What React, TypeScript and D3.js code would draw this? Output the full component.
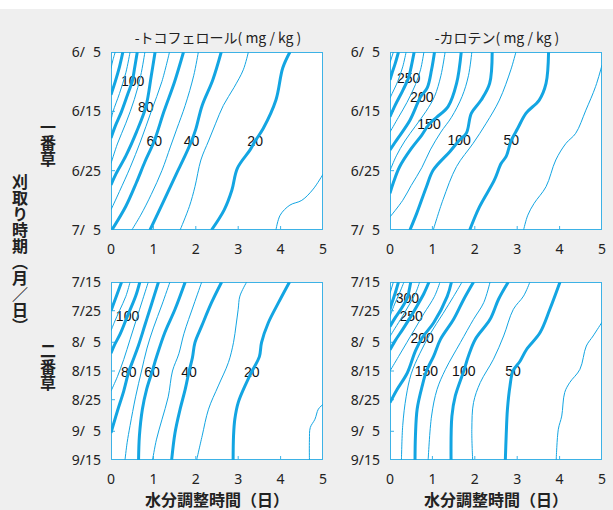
import React, { useEffect, useRef } from "react";
import * as d3 from "d3";

// x axis: drying time (days), y axis: harvest date
const dayTicks = [0, 1, 2, 3, 4, 5];
const firstCutDates = ["6/5", "6/15", "6/25", "7/5"];
const secondCutDates = ["7/15", "7/25", "8/5", "8/15", "8/25", "9/5", "9/15"];

type Contour = { level: number; pts: [number, number][] };
type Label = [number, number, number]; // value, x (days), day offset

// α-tocopherol, first cut (x days, days after 6/5)
const tocoFirst: Contour[] = [
  { level: 10, pts: [[3.89, 30], [3.99, 27.5], [4.22, 25.8], [4.5, 25], [4.77, 23.1], [5, 20.6]] },
  { level: 20, pts: [[4.22, 0], [4.05, 2.7], [3.89, 8.1], [3.59, 12.9], [3.4, 15], [3.28, 16.5], [2.98, 19.6], [2.85, 23.3], [2.67, 26.6], [2.37, 30]] },
  { level: 30, pts: [[3.24, 0], [3.12, 3], [2.9, 6], [2.65, 9], [2.47, 12], [2.3, 15], [2.12, 18.2], [1.98, 22.7], [1.85, 26], [1.63, 30]] },
  { level: 40, pts: [[2.6, 0], [2.4, 4.7], [2.15, 9], [2.0, 13], [1.9, 15], [1.7, 18.2], [1.55, 20.4], [1.25, 25], [0.92, 30]] },
  { level: 50, pts: [[2.06, 0], [1.95, 4], [1.75, 9], [1.55, 13], [1.4, 16], [1.2, 20], [0.95, 24], [0.7, 27.5], [0.49, 30]] },
  { level: 60, pts: [[1.71, 0], [1.5, 5], [1.25, 10], [1.02, 15], [0.8, 18.5], [0.6, 22], [0.35, 26], [0.02, 30]] },
  { level: 70, pts: [[1.38, 0], [1.2, 5], [0.95, 10], [0.7, 15], [0.45, 19.5], [0.2, 23.5], [0, 26.6]] },
  { level: 80, pts: [[1.04, 0], [0.95, 4], [0.82, 9.3], [0.6, 13.5], [0.35, 17.5], [0.12, 20.5], [0, 22.4]] },
  { level: 90, pts: [[0.8, 0], [0.7, 4], [0.55, 8], [0.35, 12], [0.15, 15.5], [0, 18.8]] },
  { level: 100, pts: [[0.62, 0], [0.55, 3], [0.5, 5], [0.4, 7], [0.25, 10], [0.1, 12.5], [0, 14.5]] },
  { level: 110, pts: [[0.45, 0], [0.35, 3.5], [0.2, 7], [0.05, 10], [0, 11.5]] },
  { level: 120, pts: [[0.28, 0], [0.2, 2.5], [0.1, 5], [0, 7.2]] },
  { level: 130, pts: [[0.1, 0], [0.04, 1.5], [0, 2.8]] },
];
const tocoFirstLabels: Label[] = [[100, 0.51, 4.9], [80, 0.82, 9.3], [60, 1.02, 15], [40, 1.9, 15], [20, 3.4, 15]];

// β-carotene, first cut
const carotFirst: Contour[] = [
  { level: 25, pts: [[5, 2.2], [4.85, 5.8], [4.62, 9.8], [4.38, 13.7], [4.15, 15.4], [3.91, 18.2], [3.68, 22.7], [3.4, 25.5], [3.25, 27.5], [3.15, 30]] },
  { level: 50, pts: [[3.74, 0], [3.68, 5.3], [3.52, 8.1], [3.21, 10.3], [3.01, 12.9], [2.86, 14.9], [2.74, 17.6], [2.62, 18.8], [2.46, 21.6], [2.11, 26.1], [1.88, 30]] },
  { level: 75, pts: [[2.97, 0], [2.85, 3], [2.58, 8.1], [2.27, 12], [1.96, 15.4], [1.57, 19.3], [1.25, 24.9], [1.02, 30]] },
  { level: 100, pts: [[2.41, 0], [2.35, 5.3], [2.15, 8.1], [1.92, 10.3], [1.8, 13.7], [1.63, 14.9], [1.41, 16.8], [1.02, 19.9], [0.86, 22.7], [0.63, 27.2], [0.47, 30]] },
  { level: 125, pts: [[1.93, 0], [1.85, 4], [1.7, 7.5], [1.45, 11], [1.2, 13.5], [0.95, 16.5], [0.75, 19.5], [0.5, 22.5], [0.3, 25], [0, 27.8]] },
  { level: 150, pts: [[1.68, 0], [1.57, 5.3], [1.37, 9.2], [1.1, 11], [0.92, 12.2], [0.75, 14], [0.5, 16.3], [0.23, 19.3], [0.08, 22], [0, 23.8]] },
  { level: 175, pts: [[1.3, 0], [1.2, 4], [1.05, 7.5], [0.85, 10], [0.6, 12.5], [0.35, 15], [0.15, 17.5], [0, 20]] },
  { level: 200, pts: [[1.05, 0], [0.98, 3], [0.88, 6], [0.72, 7.6], [0.47, 11.5], [0.16, 14.8], [0, 16.5]] },
  { level: 225, pts: [[0.8, 0], [0.72, 3], [0.6, 5.5], [0.4, 8.5], [0.2, 11], [0, 13.5]] },
  { level: 250, pts: [[0.57, 0], [0.5, 2.5], [0.44, 4.3], [0.3, 6.5], [0.12, 9], [0, 10.9]] },
  { level: 275, pts: [[0.38, 0], [0.3, 2.5], [0.18, 5], [0.05, 7], [0, 7.8]] },
  { level: 300, pts: [[0.2, 0], [0.12, 2], [0.05, 3.5], [0, 4.7]] },
  { level: 325, pts: [[0.08, 0], [0, 1.8]] },
];
const carotFirstLabels: Label[] = [[250, 0.44, 4.3], [200, 0.75, 7.6], [150, 0.92, 12.2], [100, 1.63, 14.9], [50, 2.86, 14.9]];

// α-tocopherol, second cut (days after 7/15)
const tocoSecond: Contour[] = [
  { level: 10, pts: [[5, 42.6], [4.89, 44.3], [4.81, 47.8], [4.7, 50.7], [4.68, 55], [4.68, 62]] },
  { level: 20, pts: [[4.21, 0], [3.95, 7.2], [3.71, 14.2], [3.55, 21.1], [3.5, 26], [3.32, 31.2], [3.16, 36.2], [3.0, 42], [2.92, 47.8], [2.89, 53.6], [2.88, 62]] },
  { level: 30, pts: [[3.2, 0], [3.04, 4.9], [3.0, 9.5], [2.95, 15], [2.89, 21], [2.77, 28], [2.53, 36.2], [2.3, 44.3], [2.15, 53.6], [2.02, 62]] },
  { level: 40, pts: [[2.61, 0], [2.37, 7.2], [2.14, 15.3], [1.98, 21.1], [1.92, 26.4], [1.84, 31.2], [1.75, 37.4], [1.63, 44.3], [1.51, 52.5], [1.43, 62]] },
  { level: 50, pts: [[2.14, 0], [1.95, 8], [1.72, 18], [1.6, 25], [1.45, 31], [1.35, 40], [1.2, 48], [1.07, 55], [0.98, 62]] },
  { level: 60, pts: [[1.75, 0], [1.51, 9.5], [1.27, 17.6], [1.08, 25.8], [0.97, 31.2], [0.84, 37.4], [0.74, 44.3], [0.67, 53.6], [0.65, 62]] },
  { level: 70, pts: [[1.39, 0], [1.2, 8], [1.0, 16], [0.85, 23], [0.72, 31], [0.58, 40], [0.45, 50], [0.38, 56], [0.33, 62]] },
  { level: 80, pts: [[1.12, 0], [0.95, 8], [0.8, 15], [0.65, 22], [0.5, 28], [0.42, 31.2], [0.3, 38], [0.15, 45], [0, 52.5]] },
  { level: 90, pts: [[0.88, 0], [0.75, 6], [0.6, 13], [0.45, 20], [0.3, 27], [0.15, 33], [0, 38]] },
  { level: 100, pts: [[0.68, 0], [0.58, 5], [0.39, 11.8], [0.22, 18], [0.08, 22], [0, 24.8]] },
  { level: 110, pts: [[0.45, 0], [0.35, 5], [0.2, 10], [0.08, 14], [0, 17]] },
  { level: 120, pts: [[0.25, 0], [0.15, 4], [0.05, 8], [0, 10]] },
];
const tocoSecondLabels: Label[] = [[100, 0.39, 11.8], [80, 0.42, 31.2], [60, 0.97, 31.2], [40, 1.84, 31.2], [20, 3.32, 31.2]];

// β-carotene, second cut
const carotSecond: Contour[] = [
  { level: 25, pts: [[5, 14], [4.79, 18.8], [4.63, 22.3], [4.48, 30.4], [4.24, 35], [4.12, 38.5], [4.05, 46.7], [3.97, 51.3], [3.92, 62]] },
  { level: 50, pts: [[4.01, 0], [3.77, 9.5], [3.54, 17.6], [3.22, 23.5], [3.07, 27.5], [2.9, 31], [2.83, 36.2], [2.77, 44.3], [2.74, 53.6], [2.72, 62]] },
  { level: 75, pts: [[3.3, 0], [3.15, 4.9], [2.91, 9.5], [2.68, 18.8], [2.44, 26.9], [2.13, 35], [1.97, 42], [1.93, 51.3], [1.95, 62]] },
  { level: 100, pts: [[2.79, 0], [2.56, 6], [2.36, 13], [2.01, 20], [1.85, 25.8], [1.74, 31], [1.54, 39.7], [1.46, 46.7], [1.44, 62]] },
  { level: 125, pts: [[2.36, 0], [2.21, 7.2], [1.97, 13], [1.66, 21.1], [1.31, 30.4], [1.11, 37.4], [0.98, 46.7], [0.9, 62]] },
  { level: 150, pts: [[1.97, 0], [1.74, 6], [1.5, 13], [1.19, 20], [1.03, 25.8], [0.86, 31], [0.76, 36.2], [0.64, 44.3], [0.6, 53.6], [0.59, 62]] },
  { level: 175, pts: [[1.7, 0], [1.5, 5], [1.25, 11], [0.95, 18], [0.7, 25], [0.5, 32], [0.38, 40], [0.3, 50], [0.27, 62]] },
  { level: 200, pts: [[1.45, 0], [1.35, 5], [1.03, 14.2], [0.76, 19.4], [0.6, 24], [0.41, 31.6], [0.17, 37.4], [0, 42]] },
  { level: 225, pts: [[1.18, 0], [1.05, 5], [0.8, 11], [0.6, 16], [0.4, 21], [0.2, 26], [0, 31]] },
  { level: 250, pts: [[0.92, 0], [0.8, 4], [0.65, 8], [0.5, 11.8], [0.3, 16.5], [0.12, 20.5], [0, 23.6]] },
  { level: 275, pts: [[0.7, 0], [0.6, 4], [0.45, 8], [0.25, 13], [0.08, 17], [0, 19]] },
  { level: 300, pts: [[0.49, 0], [0.45, 3], [0.41, 5.5], [0.28, 9], [0.12, 12.5], [0, 15.5]] },
  { level: 325, pts: [[0.33, 0], [0.22, 4], [0.1, 8], [0, 12]] },
  { level: 350, pts: [[0.2, 0], [0.12, 4], [0.04, 7.5], [0, 9.6]] },
  { level: 375, pts: [[0.08, 0], [0, 4]] },
];
const carotSecondLabels: Label[] = [[300, 0.41, 5.5], [250, 0.5, 11.8], [200, 0.76, 19.4], [150, 0.86, 31], [100, 1.74, 31], [50, 2.9, 31]];

const titles = ["-トコフェロール( mg / kg )", "-カロテン( mg / kg )"];

const BLUE = "#13a5e2";
const FRAME = "#3db2e6";
const JP = "'Noto Sans CJK JP', 'Noto Sans', sans-serif";

const parseMD = (s: string) => {
  const [m, d] = s.split("/").map(Number);
  return new Date(2000, m - 1, d);
};
const fmtMD = (s: string) => {
  const [m, d] = s.split("/");
  return d.length === 1 ? `${m}/\u2007${d}` : `${m}/${d}`;
};

export default function App() {
  const ref = useRef<SVGSVGElement>(null);

  useEffect(() => {
    const svg = d3.select(ref.current);
    svg.selectAll("*").remove();

    svg.append("rect").attr("width", 613).attr("height", 510).attr("fill", "#fff");
    svg.append("rect").attr("y", 9).attr("width", 613).attr("height", 501).attr("fill", "#efefef");

    const pw = 212;
    const ph = 178;
    const panels = [
      { id: "p0", left: 111, top: 52, data: tocoFirst, labels: tocoFirstLabels, dates: firstCutDates, major: 20, title: titles[0] },
      { id: "p1", left: 390, top: 52, data: carotFirst, labels: carotFirstLabels, dates: firstCutDates, major: 50, title: titles[1] },
      { id: "p2", left: 111, top: 282, data: tocoSecond, labels: tocoSecondLabels, dates: secondCutDates, major: 20, title: null },
      { id: "p3", left: 390, top: 282, data: carotSecond, labels: carotSecondLabels, dates: secondCutDates, major: 50, title: null },
    ];

    panels.forEach((p) => {
      const start = parseMD(p.dates[0]);
      const offsets = p.dates.map((s) => d3.timeDay.count(start, parseMD(s)));
      const x = d3.scaleLinear().domain([0, 5]).range([0, pw]);
      const y = d3.scaleLinear().domain([0, offsets[offsets.length - 1]]).range([0, ph]);

      const g = svg.append("g").attr("transform", `translate(${p.left},${p.top})`);
      g.append("rect").attr("width", pw).attr("height", ph).attr("fill", "#fff");

      svg.append("clipPath").attr("id", `clip-${p.id}`)
        .append("rect").attr("x", p.left).attr("y", p.top).attr("width", pw).attr("height", ph);

      const line = d3.line<[number, number]>()
        .x((d) => x(d[0]))
        .y((d) => y(d[1]))
        .curve(d3.curveCatmullRom.alpha(0.5));

      const lines = svg.append("g").attr("clip-path", `url(#clip-${p.id})`)
        .append("g").attr("transform", `translate(${p.left},${p.top})`);
      lines.selectAll("path")
        .data(p.data)
        .enter()
        .append("path")
        .attr("d", (d) => line(d.pts))
        .attr("fill", "none")
        .attr("stroke", BLUE)
        .attr("stroke-width", (d) => (d.level % p.major === 0 ? 3 : 1))
        .attr("stroke-linecap", "butt");

      g.selectAll(".clabel")
        .data(p.labels)
        .enter()
        .append("text")
        .attr("x", (d) => x(d[1]))
        .attr("y", (d) => y(d[2]))
        .attr("text-anchor", "middle")
        .attr("dominant-baseline", "central")
        .attr("font-family", "'Liberation Sans', Arial, sans-serif")
        .attr("font-size", 14)
        .attr("fill", "#111")
        .attr("stroke", "#fff")
        .attr("stroke-width", 5)
        .attr("stroke-linejoin", "round")
        .attr("paint-order", "stroke")
        .text((d) => d[0]);

      // frame and inward ticks
      g.append("rect").attr("x", 0.5).attr("y", 0.5).attr("width", pw - 1).attr("height", ph - 1)
        .attr("fill", "none").attr("stroke", FRAME).attr("stroke-width", 1);
      g.selectAll(".xt").data(dayTicks.slice(1, -1)).enter().append("line")
        .attr("x1", (d) => x(d)).attr("x2", (d) => x(d))
        .attr("y1", ph).attr("y2", ph - 4).attr("stroke", FRAME);
      g.selectAll(".yt").data(offsets.slice(1, -1)).enter().append("line")
        .attr("x1", 0).attr("x2", 4)
        .attr("y1", (d) => y(d)).attr("y2", (d) => y(d)).attr("stroke", FRAME);

      g.selectAll(".xl").data(dayTicks).enter().append("text")
        .attr("x", (d) => x(d)).attr("y", ph + 24)
        .attr("text-anchor", "middle")
        .attr("font-family", "'Noto Sans', sans-serif").attr("font-size", 14).attr("fill", "#222")
        .text((d) => d);
      g.selectAll(".yl").data(p.dates).enter().append("text")
        .attr("x", -10).attr("y", (d, i) => y(offsets[i]) + 5)
        .attr("text-anchor", "end")
        .attr("font-family", "'Noto Sans', sans-serif").attr("font-size", 14).attr("fill", "#222")
        .text((d) => fmtMD(d));

      if (p.title) {
        g.append("text").attr("x", pw / 2 + 1).attr("y", -9)
          .attr("text-anchor", "middle").attr("font-family", JP).attr("font-size", 14).attr("fill", "#222")
          .text(p.title);
      } else {
        g.append("text").attr("x", pw / 2).attr("y", ph + 46)
          .attr("text-anchor", "middle").attr("font-family", JP).attr("font-weight", "bold")
          .attr("font-size", 16).attr("fill", "#222")
          .text("水分調整時間（日）");
      }
    });

    const vtext = (tx: string, cx: number, cy: number) =>
      svg.append("text").attr("x", cx).attr("y", cy)
        .attr("text-anchor", "middle")
        .style("writing-mode", "vertical-rl")
        .attr("font-family", JP).attr("font-weight", "bold").attr("font-size", 16).attr("fill", "#222")
        .text(tx);
    vtext("刈取り時期（月／日）", 20, 254);
    vtext("一番草", 48, 143);
    vtext("二番草", 48, 367);
  }, []);

  return (
    <svg
      ref={ref}
      width={613}
      height={510}
      style={{ position: "absolute", left: 0, top: 0, display: "block" }}
    />
  );
}
